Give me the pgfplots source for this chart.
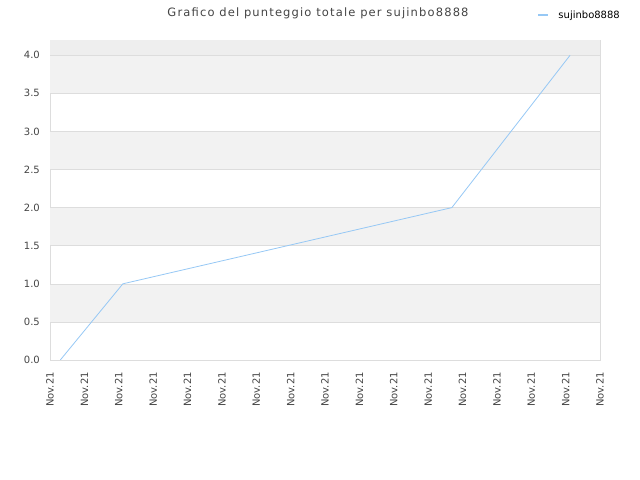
\documentclass[border=0pt]{standalone}
\usepackage{fontspec}
\setmainfont{DejaVu Sans}
\newfontfamily\titlefont[LetterSpace=10]{DejaVu Sans}
\usepackage{pgfplots}
\pgfplotsset{compat=1.18}
\definecolor{linecol}{RGB}{150,200,245}
\definecolor{bandgray}{RGB}{242,242,242}
\definecolor{topgray}{RGB}{238,238,238}
\definecolor{gridgray}{RGB}{221,221,221}
\definecolor{txtgray}{RGB}{68,68,68}
\begin{document}
\begin{tikzpicture}
\path[use as bounding box] (0,0) rectangle (640bp,480bp);
\node[font=\titlefont\fontsize{11.5bp}{13bp}\selectfont, text=txtgray] at (318bp,467bp) {Grafico del punteggio totale per sujinbo8888};
\begin{axis}[
    at={(50bp,120bp)}, anchor=south west,
    scale only axis,
    width=550bp, height=320bp,
    xmin=0, xmax=16,
    ymin=0, ymax=4.2,
    xtick={0,1,...,16},
    xticklabel={Nov.21},
    ytick={0,0.5,...,4.0},
    major tick length=0pt,
    axis line style={gridgray},
    /pgf/number format/assume math mode=true,
    yticklabel style={/pgf/number format/fixed, /pgf/number format/fixed zerofill, /pgf/number format/precision=1,
        font=\fontsize{10bp}{12bp}\selectfont, text=txtgray, inner sep=0pt, xshift=-10bp},
    xticklabel style={yshift=-12bp, rotate=90, anchor=east, font=\fontsize{10bp}{12bp}\selectfont, text=txtgray, inner sep=0pt},
    legend style={draw=none, fill=none, at={(axis description cs:1.04,1.078)}, anchor=east,
        font=\fontsize{10bp}{12bp}\selectfont, inner sep=0pt},
    legend cell align=left,
    legend image code/.code={\draw[#1, line width=1.4bp] (0bp,0bp) -- (10bp,0bp); \path (18bp,0bp);},
    band/.style={draw=none, forget plot},
    gline/.style={gridgray, line width=0.6bp, forget plot},
]
% alternating background bands
\addplot[band, fill=bandgray] coordinates {(0,0.5) (16,0.5) (16,1) (0,1)} -- cycle;
\addplot[band, fill=bandgray] coordinates {(0,1.5) (16,1.5) (16,2) (0,2)} -- cycle;
\addplot[band, fill=bandgray] coordinates {(0,2.5) (16,2.5) (16,3) (0,3)} -- cycle;
\addplot[band, fill=bandgray] coordinates {(0,3.5) (16,3.5) (16,4) (0,4)} -- cycle;
\addplot[band, fill=topgray] coordinates {(0,4) (16,4) (16,4.2) (0,4.2)} -- cycle;
% horizontal grid lines
\addplot[gline] coordinates {(0,0.5) (16,0.5)};
\addplot[gline] coordinates {(0,1) (16,1)};
\addplot[gline] coordinates {(0,1.5) (16,1.5)};
\addplot[gline] coordinates {(0,2) (16,2)};
\addplot[gline] coordinates {(0,2.5) (16,2.5)};
\addplot[gline] coordinates {(0,3) (16,3)};
\addplot[gline] coordinates {(0,3.5) (16,3.5)};
\addplot[gline] coordinates {(0,4) (16,4)};
\addplot[color=linecol, line width=0.8bp] coordinates {
    (0.30,0) (2.12,1) (11.69,2) (15.13,4)
};
\addlegendentry{sujinbo8888}
\end{axis}
\end{tikzpicture}
\end{document}
